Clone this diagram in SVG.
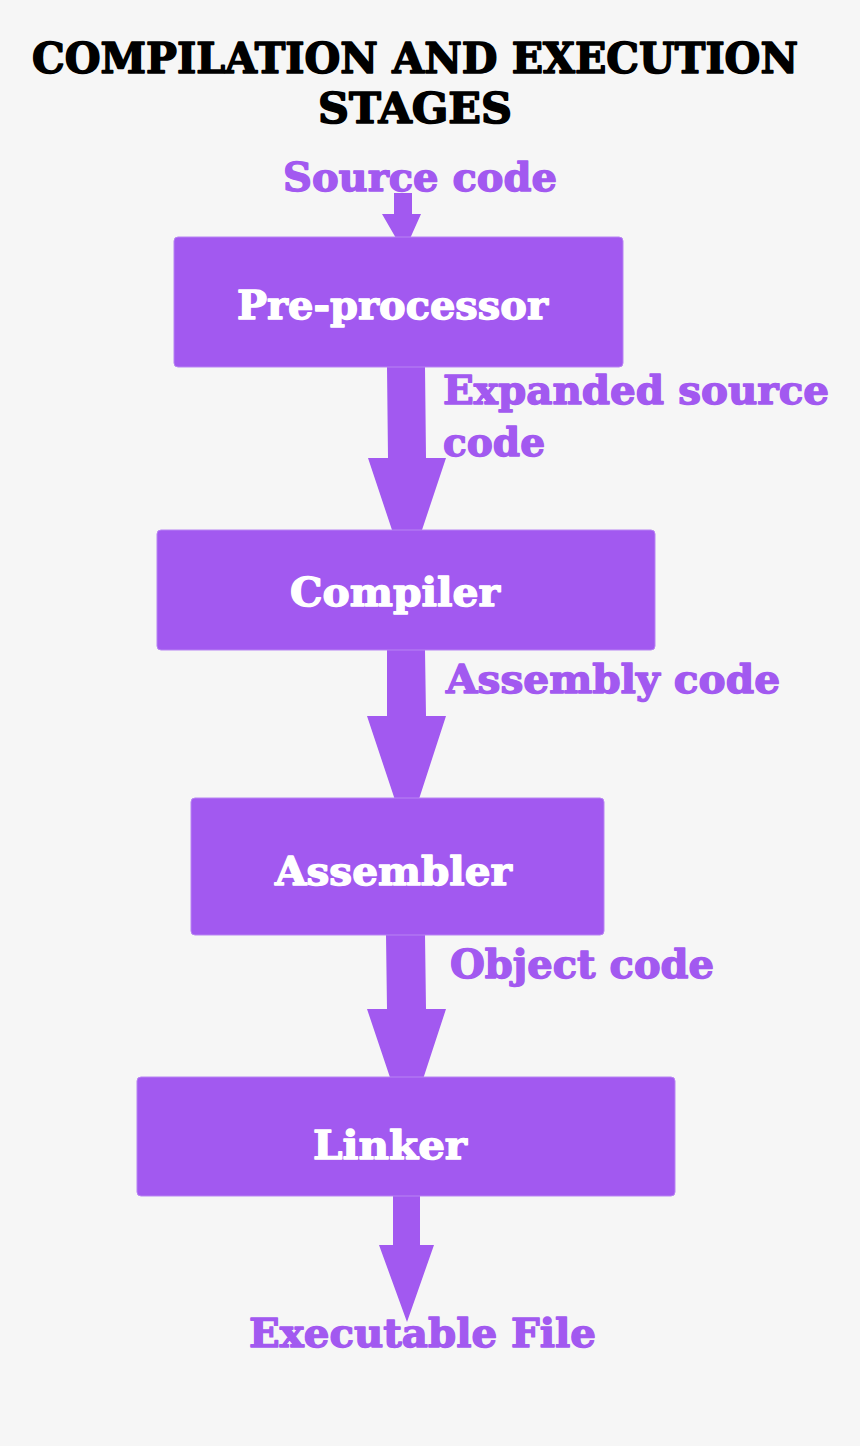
<svg xmlns="http://www.w3.org/2000/svg" width="860" height="1446" viewBox="0 0 860 1446">
<defs>
<style>
.bg{fill:#f6f6f6}
.box{fill:#a259f0;stroke:#b884f3;stroke-width:1}
.arr{fill:#a259f0}
.t{font-family:"DejaVu Serif","Liberation Serif",serif;font-weight:bold;stroke-linejoin:round}
.title{fill:#000000;stroke:#000000;stroke-width:1.6px;font-size:42px}
.lbl{fill:#a259f0;stroke:#a259f0;stroke-width:1.4px;font-size:39px}
.nt{fill:#ffffff;stroke:#ffffff;stroke-width:1.4px;font-size:40px}
</style>
</defs>
<rect class="bg" x="0" y="0" width="860" height="1446"/>
<g id="title">
<text class="t title" x="32" y="73" textLength="766" lengthAdjust="spacingAndGlyphs">COMPILATION AND EXECUTION</text>
<text class="t title" x="318" y="123" textLength="194" lengthAdjust="spacingAndGlyphs">STAGES</text>
</g>
<g id="connectors">
<polygon class="arr" points="394,193 412,193 412,214 421,214 404,252 382,214 394,214"/>
<polygon class="arr" points="387,367 425,367 426,458 446,458 407,575 368,458 388,458"/>
<polygon class="arr" points="387,650 425,650 426,716 446,716 407,836 367,716 387,716"/>
<polygon class="arr" points="386,935 425,935 426,1009 446,1009 407,1128 367,1009 387,1009"/>
<polygon class="arr" points="393,1196 420,1196 420,1245 434,1245 407,1322 379,1245 393,1245"/>
</g>
<g id="source">
<text class="t lbl" x="283" y="191" textLength="274" lengthAdjust="spacingAndGlyphs">Source code</text>
</g>
<g id="preprocessor">
<rect class="box" x="174" y="237" width="449" height="130" rx="4"/>
<text class="t nt" x="237" y="319" textLength="311" lengthAdjust="spacingAndGlyphs">Pre-processor</text>
</g>
<g id="label-expanded">
<text class="t lbl" x="443" y="404" textLength="386" lengthAdjust="spacingAndGlyphs">Expanded source</text>
<text class="t lbl" x="443" y="456" textLength="102" lengthAdjust="spacingAndGlyphs">code</text>
</g>
<g id="compiler">
<rect class="box" x="157" y="530" width="498" height="120" rx="4"/>
<text class="t nt" x="290" y="606" textLength="210" lengthAdjust="spacingAndGlyphs">Compiler</text>
</g>
<g id="label-assembly">
<text class="t lbl" x="446" y="693" textLength="334" lengthAdjust="spacingAndGlyphs">Assembly code</text>
</g>
<g id="assembler">
<rect class="box" x="191" y="798" width="413" height="137" rx="4"/>
<text class="t nt" x="275" y="885" textLength="237" lengthAdjust="spacingAndGlyphs">Assembler</text>
</g>
<g id="label-object">
<text class="t lbl" x="450" y="978" textLength="264" lengthAdjust="spacingAndGlyphs">Object code</text>
</g>
<g id="linker">
<rect class="box" x="137" y="1077" width="538" height="119" rx="4"/>
<text class="t nt" x="313" y="1159" textLength="154" lengthAdjust="spacingAndGlyphs">Linker</text>
</g>
<g id="executable">
<text class="t lbl" x="249" y="1347" textLength="347" lengthAdjust="spacingAndGlyphs">Executable File</text>
</g>
</svg>
